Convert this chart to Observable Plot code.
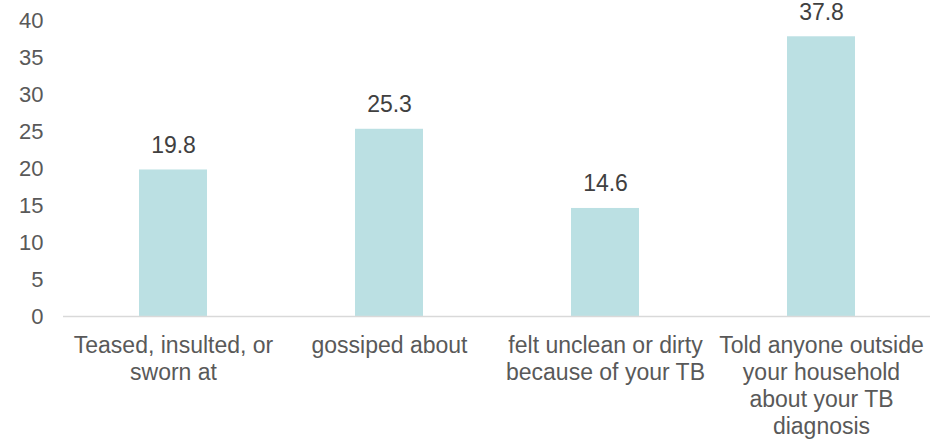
<!DOCTYPE html>
<html>
<head>
<meta charset="utf-8">
<script src="https://cdn.jsdelivr.net/npm/d3@7"></script>
<script src="https://cdn.jsdelivr.net/npm/@observablehq/plot@0.6"></script>
<style>
  html, body { margin: 0; padding: 0; background: #fff; }
  #chart { width: 945px; height: 440px; overflow: hidden; }
</style>
</head>
<body>
<div id="chart"></div>
<script>
// Experiences of TB-related stigma (percent of respondents)
const categories = [
  "Teased, insulted, or sworn at",
  "gossiped about",
  "felt unclean or dirty because of your TB",
  "Told anyone outside your household about your TB diagnosis"
];
const values = [19.8, 25.3, 14.6, 37.8];
const xTickLabels = [
  "Teased, insulted, or\nsworn at",
  "gossiped about",
  "felt unclean or dirty\nbecause of your TB",
  "Told anyone outside\nyour household\nabout your TB\ndiagnosis"
];
const yTicks = [0, 5, 10, 15, 20, 25, 30, 35, 40];

const data = categories.map((c, i) => ({category: c, value: values[i]}));

const chart = Plot.plot({
  width: 945,
  height: 440,
  marginTop: 20,
  marginBottom: 124,
  marginLeft: 63,
  marginRight: 15,
  style: {
    fontFamily: "'Liberation Sans', Arial, sans-serif",
    fontSize: "23px",
    color: "#595959",
    background: "#fff"
  },
  x: {domain: categories, paddingInner: 0.686, paddingOuter: 0.343, label: null},
  y: {domain: [0, 40], label: null},
  marks: [
    Plot.barY(data, {x: "category", y: "value", fill: "#bbe0e3"}),
    Plot.ruleY([0], {stroke: "#d9d9d9", strokeWidth: 1.5}),
    Plot.text(data, {
      x: "category", y: "value", text: d => d.value.toFixed(1),
      dy: -17, lineAnchor: "bottom", fontSize: 23, fill: "#404040"
    }),
    Plot.axisY({
      ticks: yTicks, tickSize: 0, tickPadding: 20, fontSize: 22, label: null
    }),
    Plot.axisX({
      tickSize: 0, tickPadding: 17, fontSize: 23, lineHeight: 1.18, label: null,
      tickFormat: d => xTickLabels[categories.indexOf(d)]
    })
  ]
});

document.getElementById("chart").appendChild(chart);
</script>
</body>
</html>
